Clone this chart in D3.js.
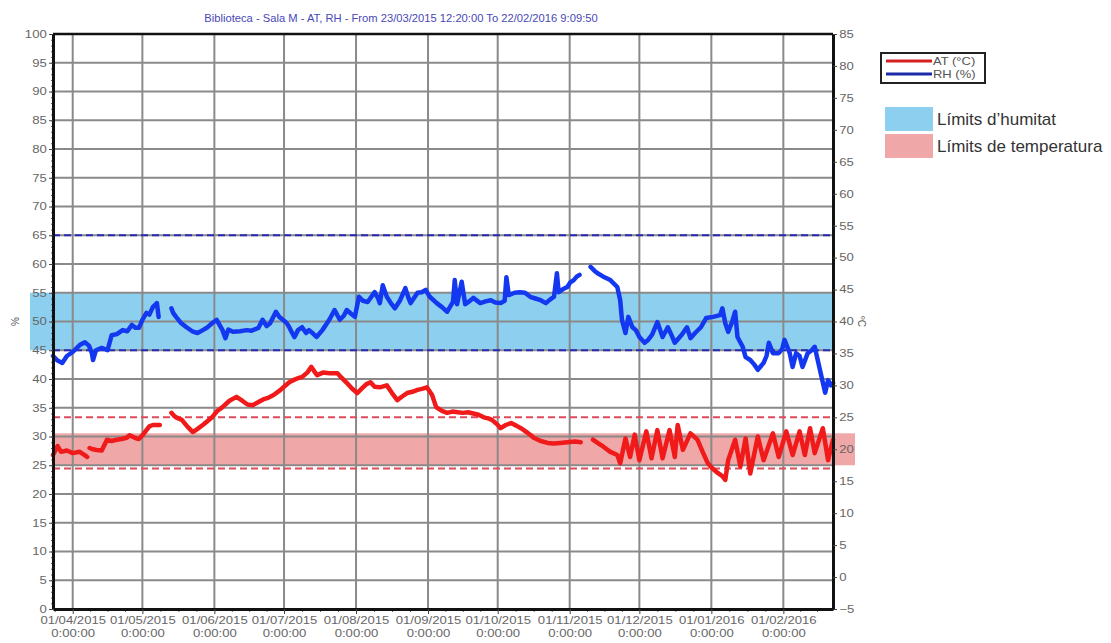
<!DOCTYPE html>
<html>
<head>
<meta charset="utf-8">
<script src="https://cdn.jsdelivr.net/npm/d3@7"></script>
<style>
  body { margin: 0; background: #fff; }
  svg { display: block; font-family: "Liberation Sans", Arial, sans-serif; }
</style>
</head>
<body>
<svg id="chart" width="1111" height="643"></svg>
<script>
// Relative humidity (%) readings, left axis. null = logger gap
const rhPoints = [
  ['2015-03-23 12:20', 44.0], ['2015-03-25 12:00', 43.2], ['2015-03-27 12:00', 42.8],
  ['2015-03-29 12:00', 44.0], ['2015-04-01 00:00', 44.7], ['2015-04-04 00:00', 45.9],
  ['2015-04-06 06:00', 46.4], ['2015-04-08 00:00', 45.8], ['2015-04-09 06:00', 44.5],
  ['2015-04-09 18:00', 43.3], ['2015-04-11 00:00', 45.0], ['2015-04-13 12:00', 45.4],
  ['2015-04-16 00:00', 45.0], ['2015-04-17 18:00', 47.6], ['2015-04-20 00:00', 47.8],
  ['2015-04-22 12:00', 48.5], ['2015-04-24 12:00', 48.3], ['2015-04-26 12:00', 49.4],
  ['2015-04-28 00:00', 48.9], ['2015-04-29 12:00', 48.9], ['2015-05-01 00:00', 50.3],
  ['2015-05-02 18:00', 51.5], ['2015-05-04 00:00', 51.2], ['2015-05-05 12:00', 52.5],
  ['2015-05-07 06:00', 53.2], ['2015-05-08 00:00', 50.8], ['2015-05-10 00:00', null],
  ['2015-05-13 12:00', 52.3], ['2015-05-14 06:00', 51.5], ['2015-05-15 12:00', 50.8],
  ['2015-05-17 12:00', 49.8], ['2015-05-20 00:00', 49.0], ['2015-05-22 12:00', 48.3],
  ['2015-05-24 18:00', 48.0], ['2015-05-27 00:00', 48.5], ['2015-05-28 18:00', 48.9],
  ['2015-05-31 00:00', 49.7], ['2015-06-02 00:00', 50.3], ['2015-06-04 12:00', 48.5],
  ['2015-06-05 18:00', 47.1], ['2015-06-07 00:00', 48.6], ['2015-06-09 00:00', 48.2],
  ['2015-06-12 00:00', 48.3], ['2015-06-15 00:00', 48.5], ['2015-06-17 00:00', 48.4],
  ['2015-06-20 00:00', 48.9], ['2015-06-21 18:00', 50.3], ['2015-06-23 12:00', 49.2],
  ['2015-06-25 00:00', 49.7], ['2015-06-27 12:00', 51.7], ['2015-06-29 00:00', 50.8],
  ['2015-06-30 12:00', 50.3], ['2015-07-02 00:00', 49.8], ['2015-07-03 06:00', 49.0],
  ['2015-07-04 12:00', 48.0], ['2015-07-05 12:00', 47.3], ['2015-07-07 00:00', 48.5],
  ['2015-07-08 18:00', 49.0], ['2015-07-10 12:00', 48.0], ['2015-07-11 18:00', 48.5],
  ['2015-07-13 12:00', 47.9], ['2015-07-15 00:00', 47.3], ['2015-07-17 12:00', 48.5],
  ['2015-07-20 12:00', 50.3], ['2015-07-22 18:00', 52.0], ['2015-07-25 00:00', 50.3],
  ['2015-07-26 18:00', 51.0], ['2015-07-28 00:00', 52.0], ['2015-07-29 18:00', 51.4],
  ['2015-07-31 12:00', 50.8], ['2015-08-02 06:00', 54.3], ['2015-08-04 00:00', 53.6],
  ['2015-08-06 00:00', 53.4], ['2015-08-07 18:00', 54.4], ['2015-08-09 00:00', 55.1],
  ['2015-08-10 12:00', 54.0], ['2015-08-11 06:00', 53.2], ['2015-08-12 12:00', 56.3],
  ['2015-08-14 06:00', 54.3], ['2015-08-16 00:00', 53.2], ['2015-08-17 18:00', 52.3],
  ['2015-08-20 00:00', 53.7], ['2015-08-22 06:00', 55.8], ['2015-08-23 12:00', 54.2],
  ['2015-08-24 12:00', 53.2], ['2015-08-27 12:00', 55.0], ['2015-08-29 06:00', 55.1],
  ['2015-08-31 00:00', 55.5], ['2015-09-01 18:00', 54.3], ['2015-09-04 18:00', 53.2],
  ['2015-09-07 00:00', 52.5], ['2015-09-09 06:00', 51.7], ['2015-09-11 18:00', 53.4],
  ['2015-09-12 12:00', 57.2], ['2015-09-13 12:00', 53.0], ['2015-09-15 12:00', 56.9],
  ['2015-09-17 00:00', 53.0], ['2015-09-18 18:00', 53.5], ['2015-09-20 12:00', 54.1],
  ['2015-09-23 12:00', 53.2], ['2015-09-25 18:00', 53.5], ['2015-09-28 00:00', 53.7],
  ['2015-09-30 00:00', 53.3], ['2015-10-02 06:00', 53.2], ['2015-10-04 00:00', 53.6],
  ['2015-10-04 18:00', 57.7], ['2015-10-05 18:00', 54.6], ['2015-10-08 06:00', 55.0],
  ['2015-10-10 12:00', 55.1], ['2015-10-12 18:00', 55.0], ['2015-10-15 00:00', 54.3],
  ['2015-10-17 06:00', 54.0], ['2015-10-19 12:00', 53.7], ['2015-10-21 18:00', 53.2],
  ['2015-10-23 12:00', 53.8], ['2015-10-25 06:00', 54.3], ['2015-10-26 12:00', 58.4],
  ['2015-10-27 06:00', 55.1], ['2015-10-29 00:00', 55.6], ['2015-10-31 00:00', 56.0],
  ['2015-11-01 06:00', 56.8], ['2015-11-02 18:00', 57.2], ['2015-11-04 00:00', 57.8],
  ['2015-11-05 06:00', 58.1], ['2015-11-07 00:00', null], ['2015-11-10 00:00', 59.5],
  ['2015-11-11 18:00', 58.8], ['2015-11-13 00:00', 58.4], ['2015-11-15 12:00', 57.8],
  ['2015-11-18 12:00', 57.2], ['2015-11-21 12:00', 56.0], ['2015-11-22 18:00', 53.7],
  ['2015-11-23 12:00', 50.3], ['2015-11-25 00:00', 48.0], ['2015-11-26 06:00', 50.8],
  ['2015-11-28 00:00', 49.0], ['2015-11-29 12:00', 48.5], ['2015-12-01 00:00', 47.3],
  ['2015-12-03 06:00', 46.3], ['2015-12-04 18:00', 46.8], ['2015-12-06 12:00', 47.7],
  ['2015-12-08 18:00', 49.9], ['2015-12-11 00:00', 47.3], ['2015-12-13 06:00', 49.0],
  ['2015-12-15 00:00', 47.5], ['2015-12-16 06:00', 46.3], ['2015-12-19 06:00', 47.7],
  ['2015-12-21 12:00', 49.0], ['2015-12-23 00:00', 47.1], ['2015-12-25 00:00', 48.0],
  ['2015-12-27 12:00', 49.0], ['2015-12-29 18:00', 50.6], ['2016-01-01 18:00', 50.8],
  ['2016-01-04 18:00', 51.1], ['2016-01-05 18:00', 52.3], ['2016-01-07 00:00', 49.7],
  ['2016-01-08 06:00', 48.2], ['2016-01-10 00:00', 50.0], ['2016-01-11 06:00', 51.7],
  ['2016-01-12 06:00', 47.3], ['2016-01-14 12:00', 45.6], ['2016-01-15 18:00', 43.8],
  ['2016-01-17 18:00', 43.3], ['2016-01-19 12:00', 42.5], ['2016-01-21 00:00', 41.6],
  ['2016-01-23 12:00', 42.8], ['2016-01-24 18:00', 44.0], ['2016-01-25 18:00', 46.3],
  ['2016-01-27 12:00', 44.5], ['2016-01-30 00:00', 44.5], ['2016-01-31 12:00', 45.2],
  ['2016-02-01 12:00', 46.8], ['2016-02-03 18:00', 44.5], ['2016-02-05 00:00', 42.1],
  ['2016-02-06 12:00', 44.5], ['2016-02-08 00:00', 44.0], ['2016-02-09 06:00', 42.1],
  ['2016-02-11 12:00', 44.5], ['2016-02-13 06:00', 45.0], ['2016-02-14 12:00', 45.6],
  ['2016-02-16 18:00', 41.6], ['2016-02-19 00:00', 37.6], ['2016-02-20 06:00', 39.8],
  ['2016-02-21 12:00', 38.9], ['2016-02-22 09:09', 39.3]
];

// Air temperature (°C) readings, right axis. null = logger gap
const atPoints = [
  ['2015-03-23 12:20', 19.1], ['2015-03-25 12:00', 20.5], ['2015-03-27 00:00', 19.6],
  ['2015-03-29 12:00', 19.8], ['2015-04-01 00:00', 19.4], ['2015-04-04 00:00', 19.6],
  ['2015-04-06 12:00', 19.0], ['2015-04-07 06:00', 18.8], ['2015-04-07 18:00', null],
  ['2015-04-08 06:00', 20.2], ['2015-04-09 18:00', 20.0], ['2015-04-11 06:00', 19.9],
  ['2015-04-13 12:00', 19.8], ['2015-04-15 18:00', 21.5], ['2015-04-17 18:00', 21.3],
  ['2015-04-20 00:00', 21.5], ['2015-04-22 00:00', 21.6], ['2015-04-24 06:00', 21.8],
  ['2015-04-25 12:00', 22.2], ['2015-04-27 18:00', 21.8], ['2015-04-29 12:00', 21.6],
  ['2015-05-01 12:00', 22.4], ['2015-05-02 18:00', 23.0], ['2015-05-04 00:00', 23.6],
  ['2015-05-05 12:00', 23.8], ['2015-05-07 06:00', 23.8], ['2015-05-08 12:00', 23.8],
  ['2015-05-10 00:00', null], ['2015-05-13 12:00', 25.7], ['2015-05-14 18:00', 25.2],
  ['2015-05-15 12:00', 25.0], ['2015-05-18 00:00', 24.6], ['2015-05-20 12:00', 23.5],
  ['2015-05-22 18:00', 22.7], ['2015-05-24 18:00', 23.2], ['2015-05-27 00:00', 23.8],
  ['2015-05-29 00:00', 24.4], ['2015-05-31 00:00', 25.0], ['2015-06-02 06:00', 26.0],
  ['2015-06-04 12:00', 26.6], ['2015-06-07 12:00', 27.6], ['2015-06-10 12:00', 28.2],
  ['2015-06-13 00:00', 27.6], ['2015-06-15 06:00', 27.0], ['2015-06-17 12:00', 26.9],
  ['2015-06-20 00:00', 27.4], ['2015-06-22 00:00', 27.8], ['2015-06-23 18:00', 28.0],
  ['2015-06-26 12:00', 28.5], ['2015-06-29 12:00', 29.3], ['2015-07-01 00:00', 29.8],
  ['2015-07-03 06:00', 30.5], ['2015-07-05 12:00', 30.9], ['2015-07-07 12:00', 31.2],
  ['2015-07-08 18:00', 31.3], ['2015-07-11 00:00', 32.0], ['2015-07-12 18:00', 32.9],
  ['2015-07-14 00:00', 32.2], ['2015-07-15 06:00', 31.6], ['2015-07-17 18:00', 32.0],
  ['2015-07-20 12:00', 31.9], ['2015-07-24 00:00', 31.9], ['2015-07-25 18:00', 31.2],
  ['2015-07-28 00:00', 30.4], ['2015-07-30 06:00', 29.5], ['2015-08-01 12:00', 28.8],
  ['2015-08-03 18:00', 29.6], ['2015-08-05 12:00', 30.2], ['2015-08-07 06:00', 30.5],
  ['2015-08-09 00:00', 29.8], ['2015-08-11 06:00', 29.7], ['2015-08-14 06:00', 30.0],
  ['2015-08-16 12:00', 28.8], ['2015-08-18 18:00', 27.7], ['2015-08-21 00:00', 28.3],
  ['2015-08-23 00:00', 28.8], ['2015-08-25 06:00', 29.0], ['2015-08-27 12:00', 29.3],
  ['2015-08-29 18:00', 29.5], ['2015-08-31 12:00', 29.7], ['2015-09-02 18:00', 28.5],
  ['2015-09-04 12:00', 26.6], ['2015-09-07 00:00', 26.0], ['2015-09-09 06:00', 25.7],
  ['2015-09-11 12:00', 25.9], ['2015-09-13 18:00', 25.8], ['2015-09-16 00:00', 25.7],
  ['2015-09-18 06:00', 25.8], ['2015-09-20 12:00', 25.6], ['2015-09-22 18:00', 25.4],
  ['2015-09-25 00:00', 25.0], ['2015-09-27 06:00', 24.8], ['2015-09-28 12:00', 24.6],
  ['2015-09-30 18:00', 23.9], ['2015-10-02 06:00', 23.3], ['2015-10-04 12:00', 23.8],
  ['2015-10-06 18:00', 24.1], ['2015-10-09 00:00', 23.7], ['2015-10-11 00:00', 23.3],
  ['2015-10-13 00:00', 22.8], ['2015-10-15 06:00', 22.2], ['2015-10-16 12:00', 21.8],
  ['2015-10-19 12:00', 21.3], ['2015-10-22 12:00', 21.0], ['2015-10-25 00:00', 20.9],
  ['2015-10-28 00:00', 21.0], ['2015-10-31 00:00', 21.1], ['2015-11-03 06:00', 21.2],
  ['2015-11-05 18:00', 21.1], ['2015-11-07 00:00', null], ['2015-11-11 00:00', 21.5],
  ['2015-11-13 00:00', 21.0], ['2015-11-15 12:00', 20.4], ['2015-11-18 12:00', 19.6],
  ['2015-11-21 12:00', 19.1], ['2015-11-22 18:00', 17.8], ['2015-11-25 00:00', 21.7],
  ['2015-11-27 00:00', 18.8], ['2015-11-29 00:00', 22.3], ['2015-12-01 00:00', 18.3],
  ['2015-12-04 00:00', 22.8], ['2015-12-06 06:00', 18.6], ['2015-12-08 18:00', 23.0],
  ['2015-12-11 00:00', 18.6], ['2015-12-14 00:00', 23.0], ['2015-12-16 06:00', 18.8],
  ['2015-12-17 12:00', 23.8], ['2015-12-19 18:00', 19.9], ['2015-12-23 00:00', 22.5],
  ['2015-12-26 00:00', 21.5], ['2015-12-28 06:00', 19.6], ['2015-12-30 12:00', 17.8],
  ['2016-01-01 12:00', 17.0], ['2016-01-03 18:00', 16.3], ['2016-01-05 18:00', 15.8],
  ['2016-01-07 00:00', 15.2], ['2016-01-08 06:00', 18.3], ['2016-01-11 06:00', 21.5],
  ['2016-01-13 12:00', 17.3], ['2016-01-15 18:00', 21.7], ['2016-01-17 18:00', 16.2],
  ['2016-01-21 00:00', 22.0], ['2016-01-23 12:00', 18.3], ['2016-01-27 12:00', 22.5],
  ['2016-01-30 00:00', 18.8], ['2016-02-02 06:00', 22.8], ['2016-02-05 00:00', 19.1],
  ['2016-02-08 00:00', 22.8], ['2016-02-10 06:00', 19.1], ['2016-02-12 12:00', 23.3],
  ['2016-02-14 12:00', 19.4], ['2016-02-18 00:00', 23.3], ['2016-02-20 06:00', 18.3],
  ['2016-02-22 09:09', 21.5]
];

const timeRange = ['2015-03-23 12:20', '2016-02-22 09:09'];
const monthTicks = [
  '2015-04-01 00:00', '2015-05-01 00:00', '2015-06-01 00:00', '2015-07-01 00:00',
  '2015-08-01 00:00', '2015-09-01 00:00', '2015-10-01 00:00', '2015-11-01 00:00',
  '2015-12-01 00:00', '2016-01-01 00:00', '2016-02-01 00:00'
];
const rhTicks = d3.range(0, 101, 5);
const atTicks = d3.range(-5, 86, 5);
const rhBand = [45, 55];      // Límits d'humitat
const rhLimits = [45, 65];
const atBand = [17.5, 22.5];  // Límits de temperatura
const atLimits = [17, 25];
const titleText = 'Biblioteca - Sala M - AT, RH - From 23/03/2015 12:20:00 To 22/02/2016 9:09:50';

const parse = d3.timeParse('%Y-%m-%d %H:%M');
const fmtDay = d3.timeFormat('%d/%m/%Y');

const plotLeft = 53, plotRight = 833, plotTop = 34, plotBottom = 609;

const svg = d3.select('#chart');

const x = d3.scaleTime().domain(timeRange.map(parse)).range([plotLeft, plotRight]);
const yRH = d3.scaleLinear().domain([0, 100]).range([plotBottom, plotTop]);
const yAT = d3.scaleLinear().domain([-5, 85]).range([plotBottom, plotTop]);

// Limit bands (drawn first, grid goes over them)
svg.append('rect')
  .attr('x', 30)
  .attr('y', yRH(rhBand[1]))
  .attr('width', plotRight - 30)
  .attr('height', yRH(rhBand[0]) - yRH(rhBand[1]))
  .attr('fill', '#8dcfef');

svg.append('rect')
  .attr('x', plotLeft)
  .attr('y', yAT(atBand[1]))
  .attr('width', 855 - plotLeft)
  .attr('height', yAT(atBand[0]) - yAT(atBand[1]))
  .attr('fill', '#efa7a7');

// Grid
const months = monthTicks.map(parse);
svg.append('g')
  .selectAll('line')
  .data(months)
  .join('line')
  .attr('x1', (d) => x(d))
  .attr('x2', (d) => x(d))
  .attr('y1', plotTop)
  .attr('y2', plotBottom)
  .attr('stroke', '#8a8a8a')
  .attr('stroke-width', 2);

svg.append('g')
  .selectAll('line')
  .data(rhTicks.filter((d) => d > 0 && d < 100))
  .join('line')
  .attr('x1', plotLeft)
  .attr('x2', plotRight)
  .attr('y1', (d) => yRH(d))
  .attr('y2', (d) => yRH(d))
  .attr('stroke', '#8a8a8a')
  .attr('stroke-width', 2);

// Dashed limit lines
svg.append('g')
  .selectAll('line')
  .data(rhLimits)
  .join('line')
  .attr('x1', plotLeft)
  .attr('x2', plotRight)
  .attr('y1', (d) => yRH(d))
  .attr('y2', (d) => yRH(d))
  .attr('stroke', '#2a2ab4')
  .attr('stroke-width', 2)
  .attr('stroke-dasharray', '7,4');

svg.append('g')
  .selectAll('line')
  .data(atLimits)
  .join('line')
  .attr('x1', plotLeft)
  .attr('x2', plotRight)
  .attr('y1', (d) => yAT(d))
  .attr('y2', (d) => yAT(d))
  .attr('stroke', '#e04a5a')
  .attr('stroke-width', 2)
  .attr('stroke-dasharray', '7,4');

// Series
const drawSeries = (points, yScale, color) => {
  const line = d3.line()
    .defined((d) => d[1] != null)
    .x((d) => x(parse(d[0])))
    .y((d) => yScale(d[1]));
  svg.append('path')
    .datum(points)
    .attr('d', line)
    .attr('fill', 'none')
    .attr('stroke', color)
    .attr('stroke-width', 4.5)
    .attr('stroke-linejoin', 'round')
    .attr('stroke-linecap', 'round');
};
drawSeries(rhPoints, yRH, '#1438f0');
drawSeries(atPoints, yAT, '#f01a1a');

// Axes
const styleAxis = (g) => {
  g.select('.domain').attr('stroke', '#111').attr('stroke-width', 3);
  g.selectAll('.tick line').attr('stroke', '#444');
  g.selectAll('.tick text')
    .attr('fill', '#666')
    .style('font-size', '10.5px');
};

svg.append('g')
  .attr('transform', `translate(${plotLeft},0)`)
  .call(d3.axisLeft(yRH).tickValues(d3.range(0, 101, 1)).tickSize(2).tickSizeOuter(0).tickFormat(''))
  .call((g) => g.select('.domain').remove())
  .selectAll('line').attr('stroke', '#666');

svg.append('g')
  .attr('transform', `translate(${plotLeft},0)`)
  .call(d3.axisLeft(yRH).tickValues(rhTicks).tickSize(4).tickSizeOuter(0).tickPadding(1))
  .call(styleAxis)
  .call((g) => g.selectAll('.tick text').attr('transform', 'scale(1.25,1)'));

svg.append('g')
  .attr('transform', `translate(${plotRight},0)`)
  .call(d3.axisRight(yAT).tickValues(d3.range(-5, 86, 1)).tickSize(2).tickSizeOuter(0).tickFormat(''))
  .call((g) => g.select('.domain').remove())
  .selectAll('line').attr('stroke', '#666');

svg.append('g')
  .attr('transform', `translate(${plotRight},0)`)
  .call(d3.axisRight(yAT).tickValues(atTicks).tickSize(4).tickSizeOuter(0).tickPadding(1))
  .call(styleAxis)
  .call((g) => g.selectAll('.tick text').attr('transform', 'scale(1.25,1)'));

// minor x ticks: four per month
const minorX = [];
d3.timeMonth.range(new Date(2015, 2, 1), new Date(2016, 2, 1)).forEach((m) => {
  const next = d3.timeMonth.offset(m, 1);
  [1, 2, 3].forEach((k) => minorX.push(new Date(+m + (next - m) * k / 4)));
});
svg.append('g')
  .attr('transform', `translate(0,${plotBottom})`)
  .call(d3.axisBottom(x).tickValues(minorX.filter((d) => d >= x.domain()[0] && d <= x.domain()[1]))
    .tickSize(3).tickSizeOuter(0).tickFormat(''))
  .call((g) => g.select('.domain').remove())
  .selectAll('line').attr('stroke', '#666');

const xAxis = svg.append('g')
  .attr('transform', `translate(0,${plotBottom})`)
  .call(d3.axisBottom(x).tickValues(months).tickSize(5).tickSizeOuter(0).tickFormat(''))
  .call(styleAxis);

const xLabel = xAxis.selectAll('.tick')
  .append('text')
  .attr('fill', '#666')
  .attr('text-anchor', 'middle')
  .attr('transform', 'scale(1.25,1)')
  .style('font-size', '10.5px');
xLabel.append('tspan').attr('x', 0).attr('y', 15).text((d) => fmtDay(d));
xLabel.append('tspan').attr('x', 0).attr('y', 28).text('0:00:00');

// Frame top
svg.append('line')
  .attr('x1', plotLeft).attr('x2', plotRight)
  .attr('y1', plotTop).attr('y2', plotTop)
  .attr('stroke', '#111')
  .attr('stroke-width', 2.5);

// Axis titles
svg.append('text')
  .attr('transform', `translate(19,${(plotTop + plotBottom) / 2}) rotate(-90)`)
  .attr('text-anchor', 'middle')
  .attr('fill', '#555')
  .style('font-size', '10px')
  .text('%');

svg.append('text')
  .attr('transform', `translate(858,${(plotTop + plotBottom) / 2}) rotate(90)`)
  .attr('text-anchor', 'middle')
  .attr('fill', '#555')
  .style('font-size', '10px')
  .text('ºC');

// Title
svg.append('text')
  .attr('transform', 'translate(401,22) scale(1.12,1)')
  .attr('text-anchor', 'middle')
  .attr('fill', '#4848b8')
  .style('font-size', '10px')
  .text(titleText);

// Legend
const legend = svg.append('g');
legend.append('rect')
  .attr('x', 881).attr('y', 53)
  .attr('width', 104).attr('height', 30)
  .attr('fill', '#fff')
  .attr('stroke', '#222')
  .attr('stroke-width', 2);

[
  { label: 'AT (°C)', color: '#d42020', y: 61 },
  { label: 'RH (%)', color: '#1a2aa8', y: 74 },
].forEach((d) => {
  legend.append('line')
    .attr('x1', 886).attr('x2', 932)
    .attr('y1', d.y).attr('y2', d.y)
    .attr('stroke', d.color)
    .attr('stroke-width', 3);
  legend.append('text')
    .attr('transform', `translate(933,${d.y + 3.5}) scale(1.3,1)`)
    .attr('fill', '#555')
    .style('font-size', '10px')
    .text(d.label);
});

[
  { label: 'Límits d\u2019humitat', color: '#8dcfef', y: 107 },
  { label: 'Límits de temperatura', color: '#efa7a7', y: 134 },
].forEach((d) => {
  legend.append('rect')
    .attr('x', 885).attr('y', d.y)
    .attr('width', 48).attr('height', 24)
    .attr('fill', d.color);
  legend.append('text')
    .attr('x', 937)
    .attr('y', d.y + 18)
    .attr('fill', '#333')
    .style('font-size', '17px')
    .text(d.label);
});
</script>
</body>
</html>
